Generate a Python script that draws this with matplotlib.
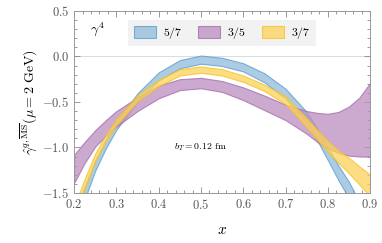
import matplotlib
matplotlib.use("Agg")
import matplotlib.pyplot as plt
from matplotlib.ticker import MultipleLocator

plt.rcParams["font.family"] = "serif"
plt.rcParams["font.serif"] = ["cmr10", "DejaVu Serif"]
plt.rcParams["mathtext.fontset"] = "cm"
plt.rcParams["axes.formatter.use_mathtext"] = True

# x grid the bands were read at
x = [0.2, 0.225, 0.25, 0.275, 0.3, 0.35, 0.4, 0.45, 0.5, 0.55, 0.6, 0.65,
     0.7, 0.75, 0.775, 0.8, 0.825, 0.85, 0.875, 0.9]

# 5/7 band (centre and half width)
blue_mid = [-1.85, -1.50, -1.20, -0.96, -0.76, -0.45, -0.22, -0.085, -0.035, -0.06,
            -0.12, -0.235, -0.41, -0.67, -0.86, -1.07, -1.28, -1.47, -1.70, -1.95]
blue_err = [0.09, 0.07, 0.055, 0.05, 0.045, 0.045, 0.045, 0.045, 0.045, 0.045,
            0.045, 0.05, 0.055, 0.06, 0.065, 0.07, 0.08, 0.09, 0.10, 0.11]

# 3/7 band
yellow_mid = [-1.72, -1.40, -1.11, -0.90, -0.72, -0.46, -0.29, -0.175, -0.145, -0.175,
              -0.245, -0.345, -0.48, -0.73, -0.86, -0.99, -1.10, -1.20, -1.31, -1.42]
yellow_err = [0.07, 0.055, 0.045, 0.04, 0.035, 0.035, 0.035, 0.035, 0.035, 0.035,
              0.035, 0.035, 0.045, 0.05, 0.055, 0.06, 0.07, 0.085, 0.10, 0.12]

# 3/5 band (upper / lower edges)
purple_hi = [-1.08, -0.94, -0.81, -0.70, -0.60, -0.45, -0.32, -0.25, -0.235, -0.27,
             -0.34, -0.43, -0.53, -0.60, -0.62, -0.63, -0.61, -0.55, -0.45, -0.29]
purple_lo = [-1.39, -1.17, -0.99, -0.87, -0.77, -0.60, -0.46, -0.37, -0.35, -0.39,
             -0.48, -0.59, -0.70, -0.85, -0.94, -1.01, -1.06, -1.09, -1.10, -1.10]

labels = ["$5/7$", "$3/5$", "$3/7$"]
fills = ["#8fbbdc", "#bb8ec0", "#fdd25a"]
edges = ["#5a9bcb", "#a469aa", "#f4c21c"]

fig = plt.figure(figsize=(3.82, 2.43), dpi=100)
ax = fig.add_axes([0.194, 0.206, 0.775, 0.749])

ax.axhline(0, color="#dddddd", lw=0.8, zorder=1)

bands = [
    ([m + e for m, e in zip(blue_mid, blue_err)], [m - e for m, e in zip(blue_mid, blue_err)]),
    (purple_hi, purple_lo),
    ([m + e for m, e in zip(yellow_mid, yellow_err)], [m - e for m, e in zip(yellow_mid, yellow_err)]),
]
handles = []
for (hi, lo), lbl, fc, ec in zip(bands, labels, fills, edges):
    h = ax.fill_between(x, lo, hi, facecolor=fc, edgecolor=ec, alpha=0.75,
                        lw=0.8, label=lbl, zorder=2)
    handles.append(h)

ax.set_xlim(0.2, 0.9)
ax.set_ylim(-1.5, 0.5)
ax.xaxis.set_major_locator(MultipleLocator(0.1))
ax.xaxis.set_minor_locator(MultipleLocator(0.02))
ax.yaxis.set_major_locator(MultipleLocator(0.5))
ax.yaxis.set_minor_locator(MultipleLocator(0.1))
ax.tick_params(which="both", direction="in", top=True, right=True,
               colors="#888888", labelcolor="#555555", labelsize=9, width=0.6)
ax.tick_params(which="major", length=4)
ax.tick_params(which="minor", length=2)
for s in ax.spines.values():
    s.set_color("#999999")
    s.set_linewidth(0.7)

ax.set_xlabel("$x$", fontsize=11, labelpad=8)
ax.set_ylabel(r"$\hat{\gamma}^{q,\overline{\rm MS}}(\mu = 2\ {\rm GeV})$", fontsize=10, labelpad=2)

ax.text(0.055, 0.9, r"$\gamma^4$", transform=ax.transAxes, fontsize=10, va="center")
ax.text(0.5, -1.0, r"$b_T = 0.12$ fm", fontsize=7, ha="center", va="center")

leg = ax.legend(handles=handles, loc="upper center", bbox_to_anchor=(0.5, 0.985), ncol=3,
                frameon=True, fontsize=8.5, handlelength=1.9, handleheight=1.1,
                handletextpad=0.6, columnspacing=1.3, borderpad=0.45, fancybox=False)
leg.get_frame().set_facecolor("#f2f2f2")
leg.get_frame().set_edgecolor("none")
leg.get_frame().set_alpha(1)

fig.savefig("out.png", dpi=100)
